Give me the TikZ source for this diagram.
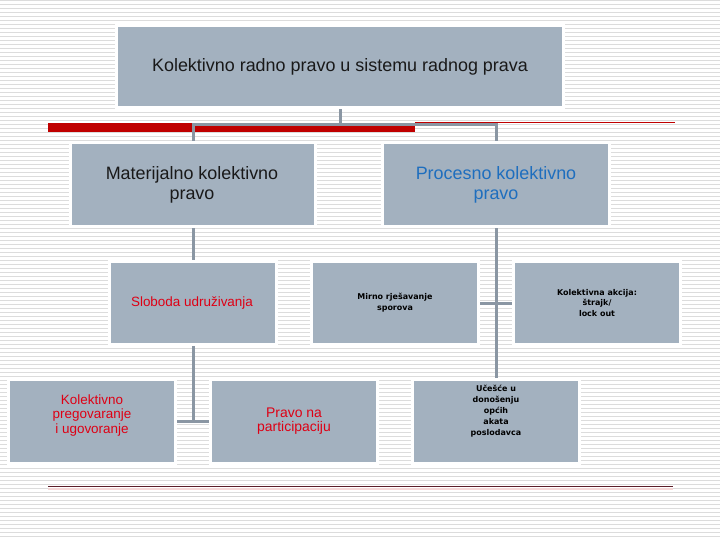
\documentclass[tikz,border=0pt]{standalone}
\usepackage{fontspec}
\setmainfont{Liberation Sans}
\newfontfamily\smallfont{DejaVu Sans}
\usetikzlibrary{backgrounds}
\definecolor{boxgray}{RGB}{163,177,191}
\definecolor{linkgray}{RGB}{138,150,163}
\definecolor{stripe}{RGB}{220,220,220}
\definecolor{barred}{RGB}{192,0,0}
\definecolor{txtred}{RGB}{222,0,20}
\definecolor{txtblue}{RGB}{30,110,190}
\definecolor{darkline}{RGB}{92,30,42}
\definecolor{shadowpink}{RGB}{245,215,215}
\begin{document}
\begin{tikzpicture}[x=1bp,y=-1bp,
  box/.style={rectangle, fill=boxgray, draw=white, line width=3bp, inner sep=0pt},
  topbox/.style={box, minimum width=447bp, minimum height=82bp},
  midbox/.style={box, minimum height=84bp},
  lowbox/.style={box, minimum width=167bp, minimum height=84bp},
  bigtext/.style={align=center, inner sep=0pt, text=black!90, font=\fontsize{18}{20}\selectfont},
  redtext/.style={align=center, inner sep=0pt, text=txtred, font=\fontsize{13.5}{14.5}\selectfont},
  tinytext/.style={align=center, inner sep=0pt, text=black, font=\smallfont\bfseries\fontsize{8}{11}\selectfont},
  link/.style={draw=linkgray, line width=3bp}]
\useasboundingbox (0,0) rectangle (720,540);

% boxes
\node[topbox] (top) at (340,66.5) {};
\node[midbox, minimum width=245bp] (mat) at (193,184.5) {};
\node[midbox, minimum width=227bp] (pro) at (496,184.5) {};
\node[lowbox, minimum height=83bp] (slob) at (193,303) {};
\node[lowbox, minimum height=83bp] (mir) at (395,303) {};
\node[lowbox, minimum height=83bp] (kak) at (597,303) {};
\node[lowbox] (kol) at (92,421.5) {};
\node[lowbox] (par) at (294,421.5) {};
\node[lowbox] (uce) at (496,421.5) {};

% texts
\node[bigtext] (top-t) at (340,66.5) {Kolektivno radno pravo u sistemu radnog prava};
\node[bigtext] (mat-t) at (192,185) {Materijalno kolektivno\\pravo};
\node[bigtext, text=txtblue] (pro-t) at (496,185) {Procesno kolektivno\\pravo};
\node[redtext] (slob-t) at (192,303) {Sloboda udruživanja};
\node[redtext] (kol-t) at (92,415.5) {Kolektivno\\pregovaranje\\i ugovoranje};
\node[redtext, font=\fontsize{14}{14.5}\selectfont] (par-t) at (294,421) {Pravo na\\participaciju};
\node[tinytext] (mir-t) at (395,303) {Mirno rješavanje\\sporova};
\node[tinytext] (kak-t) at (597,303) {Kolektivna akcija:\\štrajk/\\lock out};
\node[tinytext] (uce-t) at (496,411) {Učešće u\\donošenju\\općih\\akata\\poslodavca};

\coordinate (j1) at (340,124.5);

\begin{pgfonlayer}{background}
  \fill[white] (0,0) rectangle (720,540);
  \foreach \k in {0,...,134}
    \draw[stripe, line width=1.1bp] (0,\k*4+0.8) -- (720,\k*4+0.8);
  % red decorative bars
  \fill[barred] (48,123) rectangle (415,132);
  \draw[barred, line width=1bp] (415,123) -- (675,123);
  \draw[shadowpink, line width=2bp] (48,488.5) -- (673,488.5);
  \draw[darkline, line width=1.5bp] (48,486.5) -- (673,486.5);
  % connectors
  \draw[link] (top.south) -- (j1);
  \draw[link] (mat.north) |- (j1);
  \draw[link] (pro.north) |- (j1);
  \draw[link] (mat.south) -- (slob.north);
  \draw[link] (slob.south) -- (slob.south |- kol.east);
  \draw[link] (kol.east) -- (par.west);
  \draw[link] (pro.south) -- (uce.north);
  \draw[link] (mir.east) -- (kak.west);
\end{pgfonlayer}
\end{tikzpicture}
\end{document}
